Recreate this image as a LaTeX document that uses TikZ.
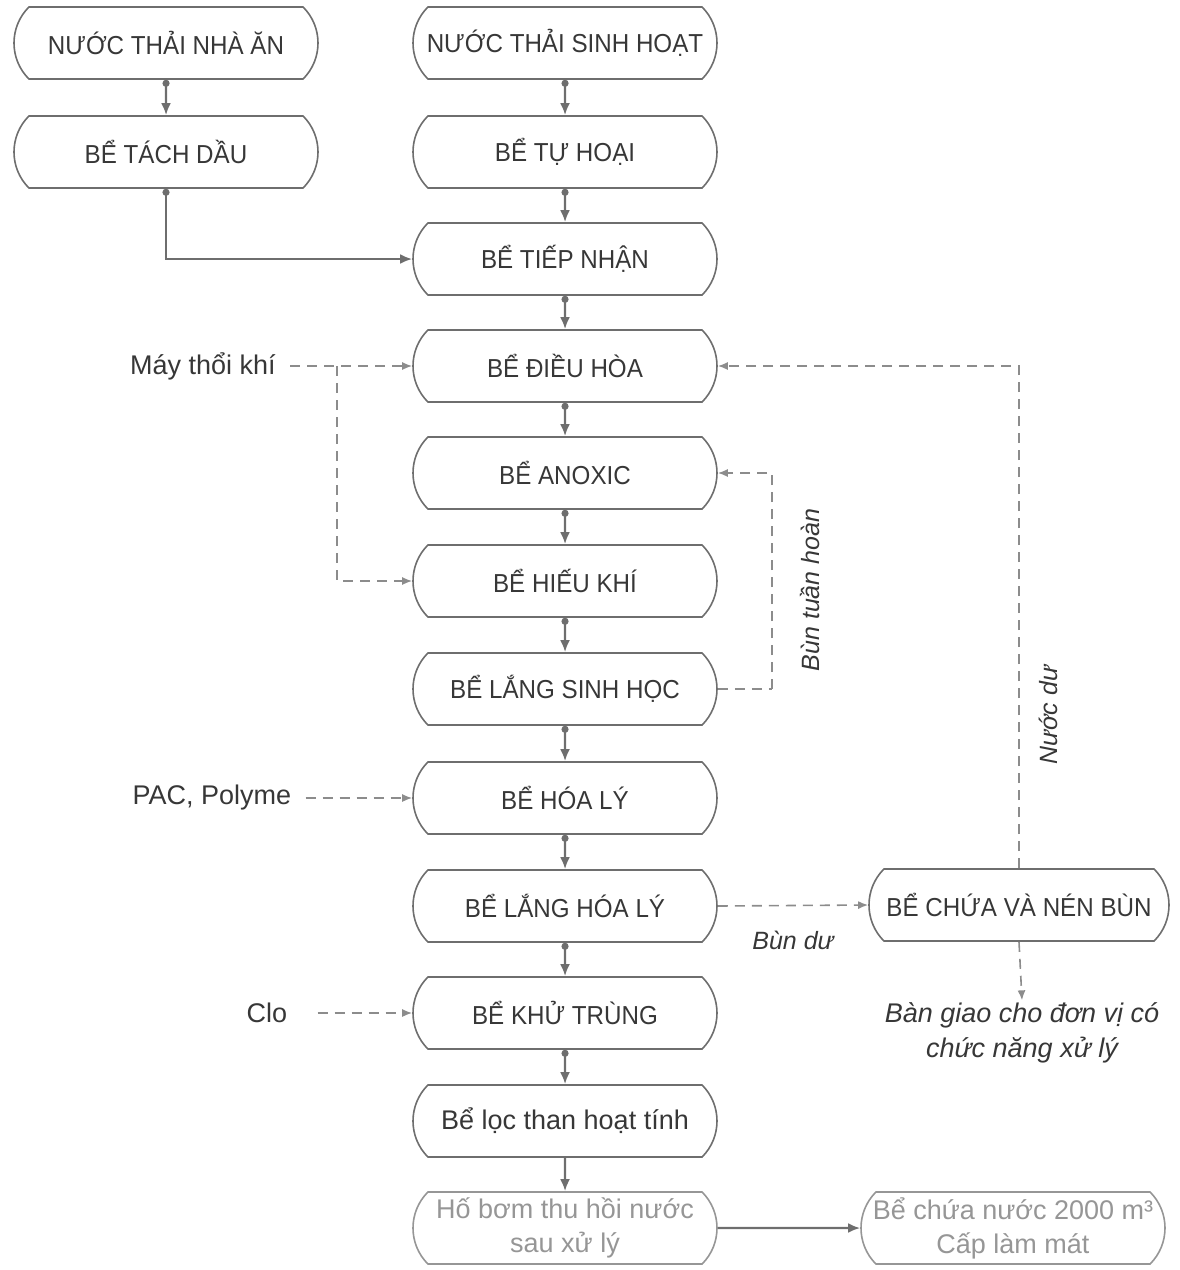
\documentclass[tikz,border=0pt]{standalone}
\usepackage{fontspec}
\setmainfont{Liberation Sans}
\newfontfamily\tankfont{Liberation Sans}[FakeStretch=0.93]
\usetikzlibrary{arrows.meta,shapes.misc}
\definecolor{boxgray}{RGB}{110,110,110}
\definecolor{textgray}{RGB}{55,55,55}
\definecolor{dashgray}{RGB}{140,140,140}
\definecolor{fadegray}{RGB}{150,150,150}
\tikzset{
  tank/.style={draw=boxgray, line width=0.8pt, rounded rectangle,
    rounded rectangle arc length=90, minimum width=156pt, minimum height=36pt,
    text=textgray, font=\tankfont\fontsize{13}{17}\selectfont, align=center, inner sep=2pt},
  fadetank/.style={tank, draw=fadegray, text=fadegray, font=\fontsize{13.5}{17}\selectfont},
  note/.style={text=textgray, font=\fontsize{13.5}{17.5}\selectfont, inner sep=1pt, align=center},
  flow/.style={draw=boxgray, line width=1.2pt, {Circle[length=3.5pt]}-{Latex[length=6pt,width=5pt]}},
  dosing/.style={draw=dashgray, line width=0.8pt, dash pattern=on 5pt off 3.5pt,
    -{Latex[length=5pt,width=4pt]}}
}
\begin{document}
\begin{tikzpicture}[x=0.5pt,y=-0.5pt]
  \useasboundingbox (0,0) rectangle (1179,1270);
  \node [tank] (nhaan) at (166,43) {NƯỚC THẢI NHÀ ĂN};
  \node [tank] (tachdau) at (166,152) {BỂ TÁCH DẦU};
  \node [tank] (sinhhoat) at (565,43) {NƯỚC THẢI SINH HOẠT};
  \node [tank] (tuhoai) at (565,152) {BỂ TỰ HOẠI};
  \node [tank] (tiepnhan) at (565,259) {BỂ TIẾP NHẬN};
  \node [tank] (dieuhoa) at (565,366) {BỂ ĐIỀU HÒA};
  \node [tank] (anoxic) at (565,473) {BỂ ANOXIC};
  \node [tank] (hieukhi) at (565,581) {BỂ HIẾU KHÍ};
  \node [tank] (langsh) at (565,689) {BỂ LẮNG SINH HỌC};
  \node [tank] (hoaly) at (565,798) {BỂ HÓA LÝ};
  \node [tank] (langhl) at (565,906) {BỂ LẮNG HÓA LÝ};
  \node [tank] (khutrung) at (565,1013) {BỂ KHỬ TRÙNG};
  \node [tank, font=\fontsize{13.5}{17}\selectfont] (locthan) at (565,1121) {Bể lọc than hoạt tính};
  \node [fadetank] (hobom) at (565,1228) {Hố bơm thu hồi nước\\sau xử lý};
  \node [tank, minimum width=154pt] (nenbun) at (1019,905) {BỂ CHỨA VÀ NÉN BÙN};
  \node [fadetank] (chuanuoc) at (1013,1228) {Bể chứa nước 2000 m³\\Cấp làm mát};

  \node [note] (maythoi) at (203,366) {Máy thổi khí};
  \node [note] (pac) at (212,798) {PAC, Polyme};
  \node [note] (clo) at (267,1013) {Clo};
  \node [note, font=\fontsize{13.5}{17.5}\selectfont\itshape] (bangiao) at (1022,1033) {Bàn giao cho đơn vị có\\chức năng xử lý};
  \node [note, font=\fontsize{12.5}{15}\selectfont\itshape] (bundu) at (793,940) {Bùn dư};
  \node [note, rotate=90, font=\fontsize{12.5}{15}\selectfont\itshape] (buntuan) at (810,590) {Bùn tuần hoàn};
  \node [note, rotate=90, font=\fontsize{12.5}{15}\selectfont\itshape] (nuocdu) at (1048,715) {Nước dư};

  \coordinate (split) at (337,366);
  \coordinate (recirc) at (772,689);

  \draw [flow] (nhaan) -- (tachdau);
  \draw [flow] (tachdau.south) |- (tiepnhan.west);
  \draw [flow] (sinhhoat) -- (tuhoai);
  \draw [flow] (tuhoai) -- (tiepnhan);
  \draw [flow] (tiepnhan) -- (dieuhoa);
  \draw [flow] (dieuhoa) -- (anoxic);
  \draw [flow] (anoxic) -- (hieukhi);
  \draw [flow] (hieukhi) -- (langsh);
  \draw [flow] (langsh) -- (hoaly);
  \draw [flow] (hoaly) -- (langhl);
  \draw [flow] (langhl) -- (khutrung);
  \draw [flow] (khutrung) -- (locthan);
  \draw [flow, -{Latex[length=6pt,width=5pt]}] (locthan) -- (hobom);
  \draw [flow, -{Latex[length=6pt,width=5pt]}] (hobom) -- (chuanuoc);

  \draw [dosing, shorten <=6pt] (maythoi.east) -- (dieuhoa.west);
  \draw [dosing] (split) |- (hieukhi.west);
  \draw [dosing, shorten <=6pt] (pac.east) -- (hoaly.west);
  \draw [dosing, shorten <=14pt] (clo.east) -- (khutrung.west);
  \draw [dosing, -] (langsh.east) -- (recirc);
  \draw [dosing] (recirc) |- (anoxic.east);
  \draw [dosing] (langhl.east) -- (nenbun.west);
  \draw [dosing] (nenbun.north) |- (dieuhoa.east);
  \draw [dosing] (nenbun.south) -- (bangiao.north);
\end{tikzpicture}
\end{document}
